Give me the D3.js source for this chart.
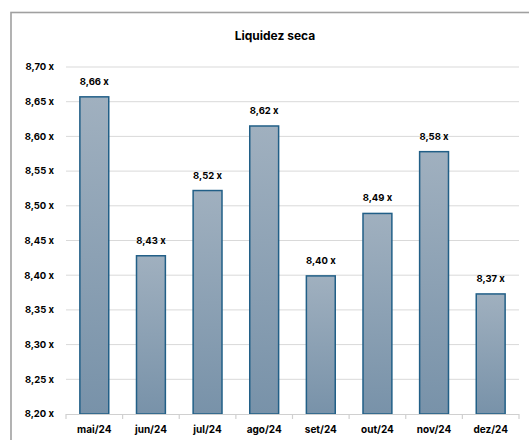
<!DOCTYPE html>
<html><head><meta charset="utf-8">
<script src="https://cdn.jsdelivr.net/npm/d3@7"></script>
<style>html,body{margin:0;padding:0;background:#fff;}svg{display:block;}</style>
</head><body>
<svg id="c" width="529" height="440"></svg>
<script>
const categories = ["mai/24","jun/24","jul/24","ago/24","set/24","out/24","nov/24","dez/24"];
const values = [8.657, 8.428, 8.522, 8.615, 8.399, 8.489, 8.578, 8.373];
const labels = ["8,66 x","8,43 x","8,52 x","8,62 x","8,40 x","8,49 x","8,58 x","8,37 x"];
const yTicks = [8.20,8.25,8.30,8.35,8.40,8.45,8.50,8.55,8.60,8.65,8.70];
const title = "Liquidez seca";

const svg = d3.select("#c");
const font = "Inter, 'Liberation Sans', Arial, sans-serif";
const m = {left:66, right:519, top:67, bottom:414};

// frame
svg.append("rect").attr("x",11).attr("y",12.5).attr("width",540).attr("height",450)
  .attr("fill","#fff").attr("stroke","#a0a0a0").attr("stroke-width",1.6);

const defs = svg.append("defs");
const g = defs.append("linearGradient").attr("id","bg").attr("x1",0).attr("y1",0).attr("x2",0).attr("y2",1);
g.append("stop").attr("offset","0%").attr("stop-color","#a0b0bf");
g.append("stop").attr("offset","100%").attr("stop-color","#7892a9");

const x = d3.scaleBand().domain(categories).range([m.left,m.right]).paddingInner(0.49).paddingOuter(0.245);
const y = d3.scaleLinear().domain([8.20,8.70]).range([m.bottom,m.top]);

// gridlines
svg.append("g").selectAll("line").data(yTicks.slice(1)).join("line")
  .attr("x1",m.left).attr("x2",m.right).attr("y1",d=>y(d)).attr("y2",d=>y(d))
  .attr("stroke","#d9d9d9").attr("stroke-width",1);

// y labels
const fmt = d => d3.format(".2f")(d).replace(".",",") + " x";
svg.append("g").selectAll("text").data(yTicks).join("text")
  .attr("x",54).attr("y",d=>y(d)).attr("dy","0.35em").attr("text-anchor","end")
  .attr("font-family",font).attr("font-weight","bold").attr("font-size","9.5px").attr("fill","#000")
  .text(fmt);

// bars
svg.append("g").selectAll("rect").data(values).join("rect")
  .attr("x",(d,i)=>x(categories[i])).attr("width",x.bandwidth())
  .attr("y",d=>y(d)).attr("height",d=>y(8.20)-y(d))
  .attr("fill","url(#bg)").attr("stroke","#215f87").attr("stroke-width",1.5);

// axis baseline
svg.append("line").attr("x1",m.left).attr("x2",m.right).attr("y1",m.bottom+0.5).attr("y2",m.bottom+0.5)
  .attr("stroke","#d0d0d0").attr("stroke-width",1.2);
const bounds = d3.range(categories.length+1).map(i=>m.left + i*(m.right-m.left)/categories.length);
svg.append("g").selectAll("line").data(bounds).join("line")
  .attr("x1",d=>d).attr("x2",d=>d).attr("y1",m.bottom).attr("y2",m.bottom+5)
  .attr("stroke","#d0d0d0").attr("stroke-width",1.2);

// x labels
svg.append("g").selectAll("text").data(categories).join("text")
  .attr("x",d=>x(d)+x.bandwidth()/2).attr("y",433).attr("text-anchor","middle")
  .attr("font-family",font).attr("font-weight","bold").attr("font-size","10px").attr("fill","#000")
  .text(d=>d);

// value labels
svg.append("g").selectAll("text").data(values).join("text")
  .attr("x",(d,i)=>x(categories[i])+x.bandwidth()/2).attr("y",d=>y(d)-12)
  .attr("text-anchor","middle")
  .attr("font-family",font).attr("font-weight","bold").attr("font-size","9.5px").attr("fill","#000")
  .text((d,i)=>labels[i]);

// title
svg.append("text").attr("x",275).attr("y",40).attr("text-anchor","middle")
  .attr("font-family",font).attr("font-weight","bold").attr("font-size","12px").attr("fill","#000")
  .text(title);
</script>
</body></html>
